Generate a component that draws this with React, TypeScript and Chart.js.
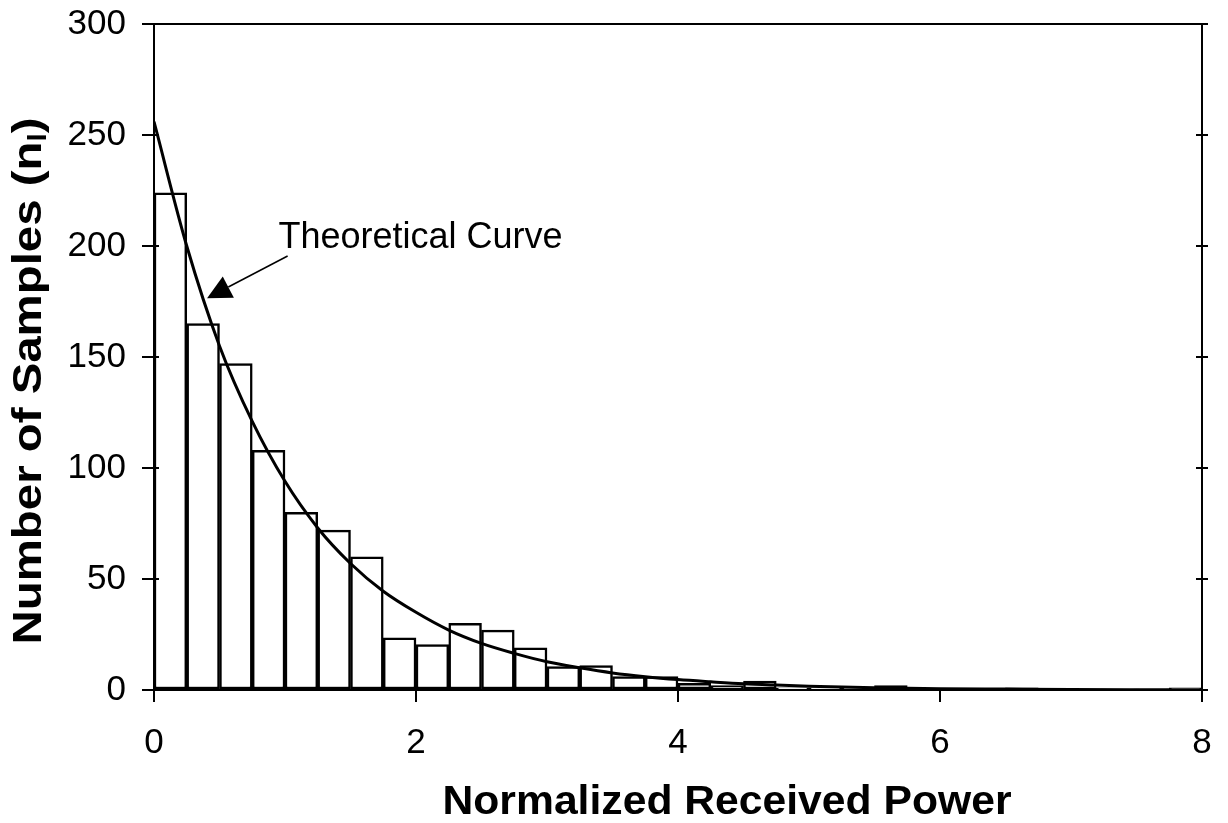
import React, { useEffect, useRef } from "react";
import { Chart, registerables } from "chart.js";

Chart.register(...registerables);

// Histogram bins (centre of each 0.25-wide bin) and counts
const binCenters = [
  0.125, 0.375, 0.625, 0.875, 1.125, 1.375, 1.625, 1.875,
  2.125, 2.375, 2.625, 2.875, 3.125, 3.375, 3.625, 3.875,
  4.125, 4.375, 4.625, 4.875, 5.125, 5.375, 5.625, 5.875,
  6.125, 6.375, 6.625, 6.875, 7.125, 7.375, 7.625, 7.875,
];
const sampleCounts = [
  224, 165, 147, 108, 80, 72, 60, 23.5,
  20.5, 30, 27, 19, 10.5, 11, 6, 6,
  3, 2, 4, 1, 1, 1, 2, 0.5,
  0.5, 0.5, 1, 0.5, 0.3, 0.3, 0.3, 1,
];

// Theoretical curve points
const curveX = [
  0, 0.25, 0.5, 0.75, 1, 1.25, 1.5, 1.75, 2, 2.25, 2.5, 2.75, 3, 3.25,
  3.5, 3.75, 4, 4.25, 4.5, 4.75, 5, 5.5, 6, 6.5, 7, 7.5, 8,
];
const curveY = [
  256, 200, 155, 121, 94, 73, 57, 44.5, 35, 27, 21, 16.5, 12.7, 10,
  7.7, 6, 4.7, 3.7, 2.8, 2.2, 1.7, 1.0, 0.6, 0.4, 0.2, 0.1, 0.1,
];

const xTicks = [0, 2, 4, 6, 8];
const yTicks = [0, 50, 100, 150, 200, 250, 300];

const xTitle = "Normalized Received Power";
const yTitleMain = "Number of Samples (n";
const yTitleSub = "l";
const yTitleEnd = ")";
const annotationText = "Theoretical Curve";

const FONT = "Arial, 'Liberation Sans', Helvetica, sans-serif";

const decorPlugin = {
  id: "decor",
  afterDraw(chart: any) {
    const { ctx, chartArea, scales } = chart;
    const xs = scales.x;
    const ys = scales.y;
    ctx.save();
    ctx.strokeStyle = "#000";
    ctx.fillStyle = "#000";
    ctx.lineWidth = 2;
    // frame top and right
    ctx.beginPath();
    ctx.moveTo(chartArea.left, chartArea.top);
    ctx.lineTo(chartArea.right, chartArea.top);
    ctx.lineTo(chartArea.right, chartArea.bottom);
    ctx.stroke();
    // inner part of left ticks + right ticks
    yTicks.forEach((v) => {
      const y = ys.getPixelForValue(v);
      ctx.beginPath();
      ctx.moveTo(chartArea.left, y);
      ctx.lineTo(chartArea.left + 5, y);
      ctx.moveTo(chartArea.right - 6, y);
      ctx.lineTo(chartArea.right + 6, y);
      ctx.stroke();
    });

    // annotation
    ctx.font = `36px ${FONT}`;
    ctx.textAlign = "left";
    ctx.textBaseline = "alphabetic";
    ctx.fillText(annotationText, xs.getPixelForValue(0.95), ys.getPixelForValue(199));
    const tailX = xs.getPixelForValue(1.02);
    const tailY = ys.getPixelForValue(195.5);
    const tipX = xs.getPixelForValue(0.405);
    const tipY = ys.getPixelForValue(176.5);
    const dx = tipX - tailX;
    const dy = tipY - tailY;
    const len = Math.hypot(dx, dy);
    const ux = dx / len;
    const uy = dy / len;
    const headLen = 24;
    const headHalf = 12;
    const bx = tipX - ux * headLen;
    const by = tipY - uy * headLen;
    ctx.lineWidth = 1.5;
    ctx.beginPath();
    ctx.moveTo(tailX, tailY);
    ctx.lineTo(bx, by);
    ctx.stroke();
    ctx.beginPath();
    ctx.moveTo(tipX, tipY);
    ctx.lineTo(bx - uy * headHalf, by + ux * headHalf);
    ctx.lineTo(bx + uy * headHalf, by - ux * headHalf);
    ctx.closePath();
    ctx.fill();

    const mainFont = `bold 40px ${FONT}`;
    const subFont = `bold 25px ${FONT}`;

    // x title (stretched to match reference width)
    ctx.save();
    ctx.font = mainFont;
    ctx.textAlign = "center";
    ctx.textBaseline = "middle";
    const xw = ctx.measureText(xTitle).width;
    ctx.translate(727, 803);
    ctx.scale(569 / xw, 1);
    ctx.fillText(xTitle, 0, 0);
    ctx.restore();

    // y title (rotated, with subscript)
    ctx.save();
    ctx.font = mainFont;
    const w1 = ctx.measureText(yTitleMain).width;
    const w3 = ctx.measureText(yTitleEnd).width;
    ctx.font = subFont;
    const w2 = ctx.measureText(yTitleSub).width;
    const total = w1 + w2 + w3;
    ctx.translate(30, 381);
    ctx.rotate(-Math.PI / 2);
    ctx.scale(527 / total, 1);
    let cx = -total / 2;
    ctx.textAlign = "left";
    ctx.textBaseline = "middle";
    ctx.font = mainFont;
    ctx.fillText(yTitleMain, cx, 0);
    cx += w1;
    ctx.font = subFont;
    ctx.fillText(yTitleSub, cx, 9);
    cx += w2;
    ctx.font = mainFont;
    ctx.fillText(yTitleEnd, cx, 0);
    ctx.restore();

    ctx.restore();
  },
};

export default function App() {
  const canvasRef = useRef<HTMLCanvasElement | null>(null);

  useEffect(() => {
    if (!canvasRef.current) return;
    const chart = new Chart(canvasRef.current, {
      type: "bar",
      data: {
        datasets: [
          {
            type: "line",
            label: "Theoretical",
            data: curveX.map((x, i) => ({ x, y: curveY[i] })),
            borderColor: "#000",
            borderWidth: 3,
            pointRadius: 0,
            fill: false,
            cubicInterpolationMode: "monotone",
            order: 0,
          } as any,
          {
            type: "bar",
            label: "Samples",
            data: binCenters.map((x, i) => ({ x, y: sampleCounts[i] })),
            backgroundColor: "#fff",
            borderColor: "#000",
            borderWidth: 2.5,
            borderSkipped: false,
            barPercentage: 1,
            categoryPercentage: 1,
            grouped: false,
            order: 1,
          } as any,
        ],
      },
      options: {
        animation: false,
        responsive: true,
        maintainAspectRatio: false,
        layout: { padding: { left: 0, top: 24, right: 26, bottom: 0 } },
        plugins: {
          legend: { display: false },
          tooltip: { enabled: false },
        },
        scales: {
          x: {
            type: "linear",
            min: 0,
            max: 8,
            offset: false,
            afterBuildTicks: (scale: any) => {
              scale.ticks = xTicks.map((v) => ({ value: v }));
            },
            afterFit: (scale: any) => {
              scale.height = 133;
              scale.paddingLeft = 0;
              scale.paddingRight = 0;
            },
            ticks: {
              color: "#000",
              font: { family: FONT, size: 35 },
              padding: 20,
              maxRotation: 0,
              autoSkip: false,
            },
            grid: {
              display: true,
              drawOnChartArea: false,
              drawTicks: true,
              tickLength: 12,
              color: "#000",
              lineWidth: 2,
              offset: false,
            },
            border: { display: true, color: "#000", width: 2 },
          },
          y: {
            type: "linear",
            min: 0,
            max: 300,
            afterBuildTicks: (scale: any) => {
              scale.ticks = yTicks.map((v) => ({ value: v }));
            },
            afterFit: (scale: any) => {
              scale.width = 154;
              scale.paddingTop = 0;
              scale.paddingBottom = 0;
            },
            ticks: {
              color: "#000",
              font: { family: FONT, size: 35 },
              padding: 16,
            },
            grid: {
              display: true,
              drawOnChartArea: false,
              drawTicks: true,
              tickLength: 12,
              color: "#000",
              lineWidth: 2,
            },
            border: { display: true, color: "#000", width: 2 },
          },
        },
      },
      plugins: [decorPlugin],
    });
    return () => chart.destroy();
  }, []);

  return (
    <div style={{ position: "fixed", left: 0, top: 0, width: 1228, height: 823, background: "#fff" }}>
      <canvas ref={canvasRef} />
    </div>
  );
}
